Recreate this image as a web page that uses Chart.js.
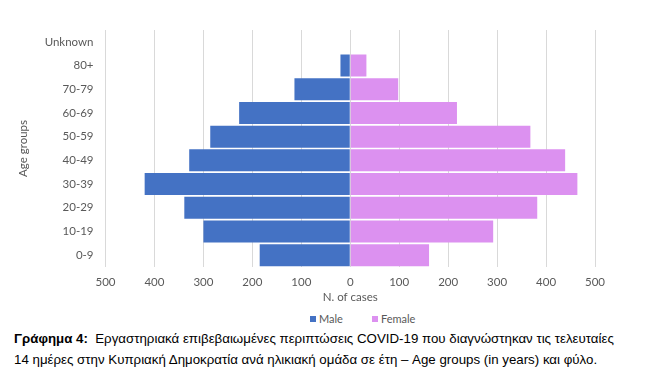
<!DOCTYPE html>
<html>
<head>
<meta charset="utf-8">
<script src="https://cdn.jsdelivr.net/npm/chart.js@4"></script>
<style>
  html, body { margin: 0; padding: 0; background: #fff; }
  body { width: 661px; height: 388px; position: relative; overflow: hidden; }
  #wrap { position: absolute; left: 0; top: 0; width: 661px; height: 310px; }
  #legend { position: absolute; top: 312px; left: 310px; font: 11px Lato, sans-serif; color: #595959; white-space: nowrap; }
  #legend span.box { display: inline-block; width: 6px; height: 6px; margin-right: 3px; vertical-align: 1px; }
  #legend span.item { margin-right: 29px; }
  .caption { position: absolute; left: 14px; font: 13.3px "Liberation Sans", Arial, sans-serif; color: #000; white-space: nowrap; }
</style>
</head>
<body>
<div id="wrap"><canvas id="pyramid"></canvas></div>
<div id="legend"></div>
<div class="caption" id="cap1" style="top:331px"><b>Γράφημα 4:</b>&nbsp; Εργαστηριακά επιβεβαιωμένες περιπτώσεις COVID-19 που διαγνώστηκαν τις τελευταίες</div>
<div class="caption" id="cap2" style="top:352px">14 ημέρες στην Κυπριακή Δημοκρατία ανά ηλικιακή ομάδα σε έτη – Age groups (in years) και φύλο.</div>
<script>
const ageGroups = ['Unknown', '80+', '70-79', '60-69', '50-59', '40-49', '30-39', '20-29', '10-19', '0-9'];
const maleCases = [0, 20, 114, 227, 286, 329, 420, 339, 300, 185];
const femaleCases = [0, 33, 98, 218, 368, 439, 464, 382, 292, 161];
const seriesNames = ['Male', 'Female'];
const seriesColors = ['#4472C4', '#DC91F0'];

const textColor = '#595959';
const tickFont = { family: 'Lato', size: 11.5 };

new Chart(document.getElementById('pyramid'), {
  type: 'bar',
  data: {
    labels: ageGroups,
    datasets: [
      { label: seriesNames[0], data: maleCases.map(v => -v), backgroundColor: seriesColors[0] },
      { label: seriesNames[1], data: femaleCases, backgroundColor: seriesColors[1] }
    ]
  },
  options: {
    indexAxis: 'y',
    responsive: true,
    maintainAspectRatio: false,
    animation: false,
    barPercentage: 0.93,
    categoryPercentage: 1,
    layout: { padding: { left: 12, right: 66, top: 30, bottom: 6 } },
    plugins: { legend: { display: false }, tooltip: { enabled: false } },
    scales: {
      x: {
        stacked: true,
        min: -500, max: 500,
        ticks: { stepSize: 100, color: textColor, font: tickFont, padding: 8, callback: v => Math.abs(v) },
        grid: { color: '#d9d9d9', drawTicks: false },
        border: { display: false },
        title: { display: true, text: 'N. of cases', color: textColor, font: tickFont, padding: 0 },
        afterFit: s => { s.height = 37; }
      },
      y: {
        stacked: true,
        ticks: { color: textColor, font: tickFont, padding: 12 },
        grid: { display: false, drawTicks: false },
        border: { display: false },
        title: { display: true, text: 'Age groups', color: textColor, font: tickFont, padding: 4 },
        afterFit: s => { s.width = 93.5; }
      }
    }
  }
});

const legend = document.getElementById('legend');
legend.innerHTML = seriesNames.map((n, i) =>
  '<span class="item"><span class="box" style="background:' + seriesColors[i] + '"></span>' + n + '</span>'
).join('');
</script>
</body>
</html>
